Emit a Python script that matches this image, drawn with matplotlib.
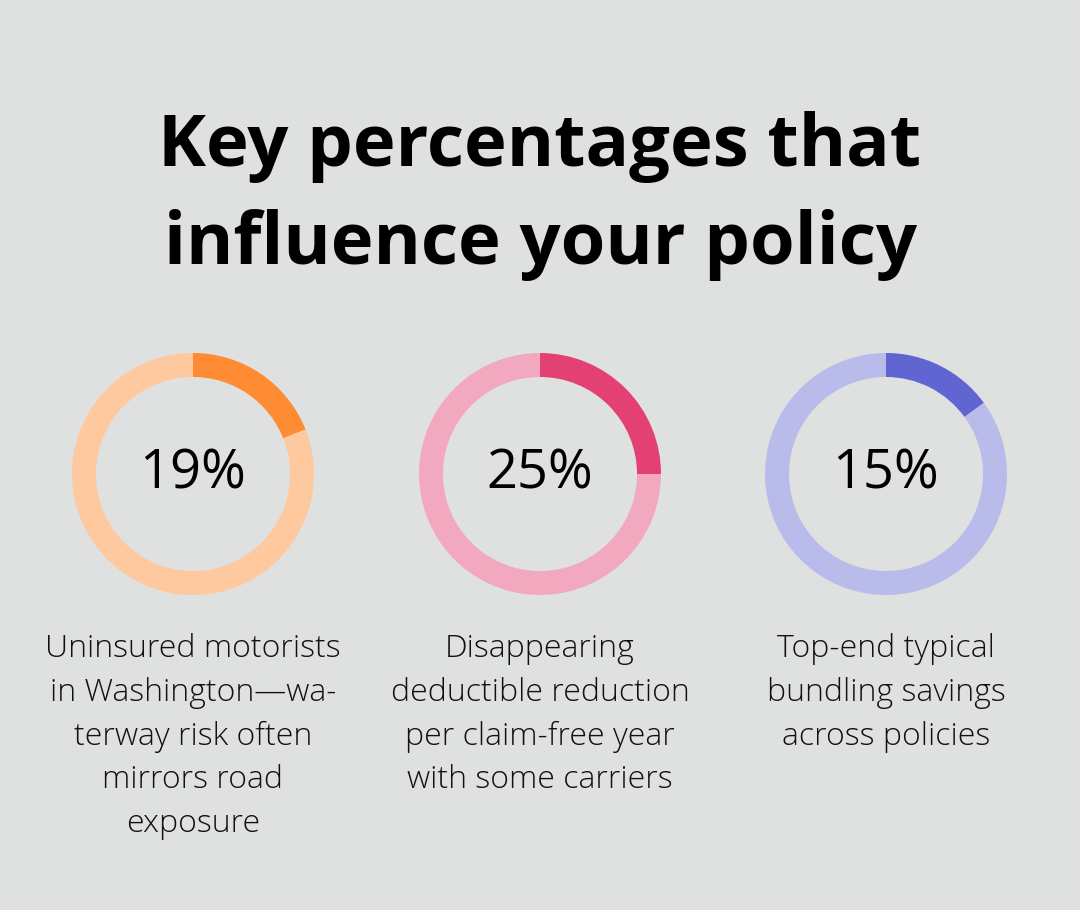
import matplotlib
matplotlib.use('Agg')
import matplotlib.pyplot as plt

plt.rcParams['font.family'] = ['Open Sans', 'DejaVu Sans']

title = 'Key percentages that\ninfluence your policy'
values = [19, 25, 15]
labels = ['19%', '25%', '15%']
descriptions = [
    'Uninsured motorists\nin Washington\u2014wa-\nterway risk often\nmirrors road\nexposure',
    'Disappearing\ndeductible reduction\nper claim-free year\nwith some carriers',
    'Top-end typical\nbundling savings\nacross policies',
]
dark_colors = ['#FF8C33', '#E34174', '#6065D1']
light_colors = ['#FFC9A0', '#F2A9BF', '#B9BCEA']

bg = '#DFE1E0'
W, H = 1080, 910
fig = plt.figure(figsize=(W / 100, H / 100), dpi=100, facecolor=bg)

fig.text(540 / W, 1 - 196 / H, title, ha='center', va='center',
         fontsize=52, fontweight='bold', color='#000000', linespacing=1.48)

centers_x = [193, 540, 886]
cy = 474
r = 121
ring = 24

for i, v in enumerate(values):
    cx = centers_x[i]
    ax = fig.add_axes([(cx - r) / W, 1 - (cy + r) / H, 2 * r / W, 2 * r / H])
    ax.pie([v, 100 - v], colors=[dark_colors[i], light_colors[i]],
           startangle=90, counterclock=False, radius=1,
           wedgeprops=dict(width=ring / r, linewidth=0))
    ax.set_xlim(-1, 1)
    ax.set_ylim(-1, 1)
    ax.set_aspect('equal')
    ax.axis('off')
    ax.text(0, 0, labels[i], ha='center', va='center', fontsize=39,
            color='#000000')
    fig.text(cx / W, 1 - 633 / H, descriptions[i], ha='center', va='top',
             fontsize=23, fontweight='light', color='#111111', linespacing=1.49)

fig.savefig('out.png', dpi=100, facecolor=bg)
